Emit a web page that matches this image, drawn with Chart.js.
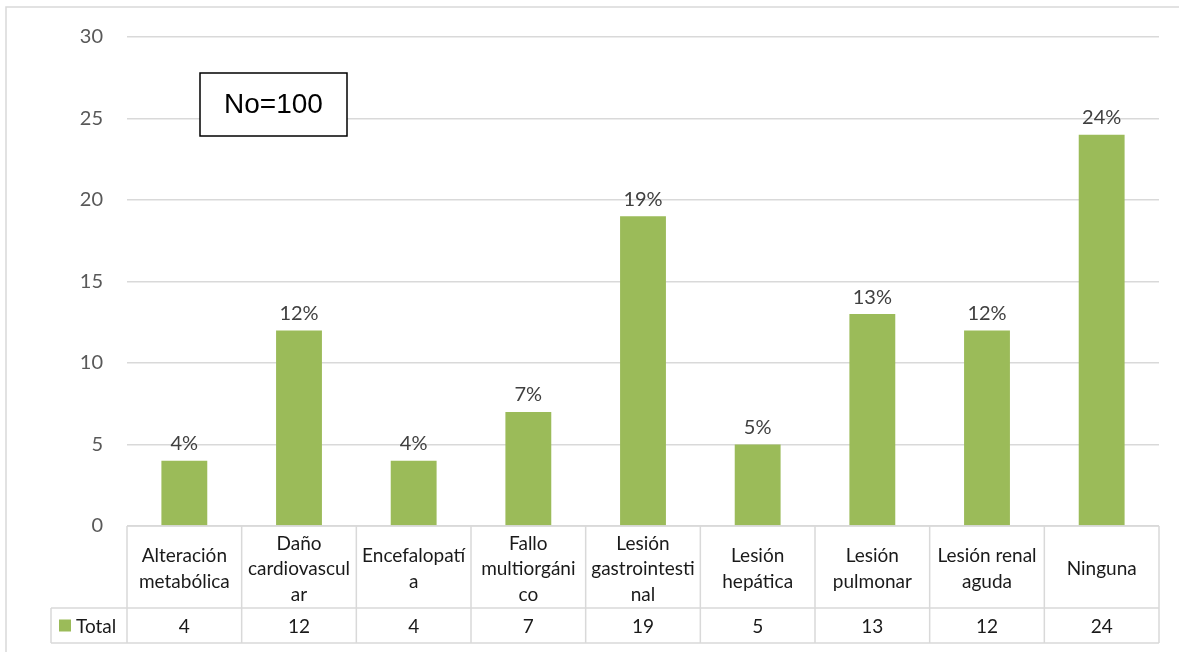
<!DOCTYPE html>
<html>
<head>
<meta charset="utf-8">
<script src="https://cdn.jsdelivr.net/npm/chart.js@4.4.1/dist/chart.umd.min.js"></script>
<style>
    body { margin: 0; background: #fff; }
    canvas { display: block; }
</style>
</head>
<body>
<canvas id="myChart" width="1179" height="652"></canvas>
<script>
// data
const categories = [
    ['Alteración', 'metabólica'],
    ['Daño', 'cardiovascul', 'ar'],
    ['Encefalopatí', 'a'],
    ['Fallo', 'multiorgáni', 'co'],
    ['Lesión', 'gastrointesti', 'nal'],
    ['Lesión', 'hepática'],
    ['Lesión', 'pulmonar'],
    ['Lesión renal', 'aguda'],
    ['Ninguna']
];
const totals = [4, 12, 4, 7, 19, 5, 13, 12, 24];
const seriesName = 'Total';
const yMin = 0;
const yMax = 30;
const yStep = 5;
const sampleNote = 'No=100';

const GREEN = '#9BBB59';
const GRID = '#d9d9d9';
const FONT = 'Lato, "Open Sans", sans-serif';

const sum = totals.reduce((a, b) => a + b, 0);

function line(ctx, x1, y1, x2, y2) {
    ctx.beginPath();
    ctx.moveTo(x1, y1);
    ctx.lineTo(x2, y2);
    ctx.stroke();
}

// background, frame, labels, data table, note box
const extras = {
    id: 'extras',
    beforeDraw(chart) {
        const ctx = chart.ctx;
        ctx.save();
        ctx.fillStyle = '#fff';
        ctx.fillRect(0, 0, chart.width, chart.height);
        ctx.strokeStyle = GRID;
        ctx.lineWidth = 1.5;
        ctx.strokeRect(6, 7, chart.width + 20, chart.height + 20);
        ctx.restore();
    },
    afterDatasetsDraw(chart) {
        const ctx = chart.ctx;
        const meta = chart.getDatasetMeta(0);
        ctx.save();
        ctx.font = '20px ' + FONT;
        ctx.fillStyle = '#404040';
        ctx.textAlign = 'center';
        ctx.textBaseline = 'bottom';
        meta.data.forEach((bar, i) => {
            const pct = Math.round(totals[i] / sum * 100) + '%';
            ctx.fillText(pct, bar.x, bar.y - 7);
        });
        ctx.restore();
    },
    afterDraw(chart) {
        const ctx = chart.ctx;
        const area = chart.chartArea;
        const x = chart.scales.x;
        const half = (x.getPixelForValue(1) - x.getPixelForValue(0)) / 2;
        const top = area.bottom;
        const headBottom = top + 82;
        const rowBottom = headBottom + 35;
        const legendLeft = 51;

        ctx.save();
        ctx.strokeStyle = GRID;
        ctx.lineWidth = 1.5;
        line(ctx, area.left, top, area.right, top);
        line(ctx, legendLeft, headBottom, area.right, headBottom);
        line(ctx, legendLeft, rowBottom, area.right, rowBottom);
        line(ctx, legendLeft, headBottom, legendLeft, rowBottom);
        for (let i = 0; i < categories.length; i++) {
            const xb = x.getPixelForValue(i) - half;
            line(ctx, xb, top, xb, rowBottom);
        }
        line(ctx, area.right, top, area.right, rowBottom);

        // header labels
        ctx.fillStyle = '#1a1a1a';
        ctx.font = '19px ' + FONT;
        ctx.textAlign = 'center';
        ctx.textBaseline = 'middle';
        const lh = 25.5;
        categories.forEach((lines, i) => {
            const cx = x.getPixelForValue(i);
            const cy = (top + headBottom) / 2 + 2 - (lines.length - 1) * lh / 2;
            lines.forEach((t, k) => ctx.fillText(t, cx, cy + k * lh));
        });

        // values row
        const rowY = (headBottom + rowBottom) / 2;
        totals.forEach((v, i) => {
            ctx.fillText(String(v), x.getPixelForValue(i), rowY + 1);
        });

        // legend key
        ctx.fillStyle = GREEN;
        ctx.fillRect(59, rowY - 6, 12, 12);
        ctx.fillStyle = '#1a1a1a';
        ctx.textAlign = 'left';
        ctx.fillText(seriesName, 76, rowY + 1);

        // note box
        ctx.fillStyle = '#fff';
        ctx.fillRect(200, 73, 147, 63);
        ctx.strokeStyle = '#000';
        ctx.lineWidth = 1.5;
        ctx.strokeRect(200, 73, 147, 63);
        ctx.fillStyle = '#000';
        ctx.font = '28px "Liberation Sans", Arial, sans-serif';
        ctx.textAlign = 'center';
        ctx.fillText(sampleNote, 273.5, 105);
        ctx.restore();
    }
};

const ctx = document.getElementById('myChart');

let myChart = new Chart(ctx, {
    type: 'bar',
    data: {
        labels: categories,
        datasets: [{
            label: seriesName,
            data: totals,
            backgroundColor: GREEN,
            barPercentage: 0.4,
            categoryPercentage: 1
        }]
    },
    options: {
        responsive: false,
        animation: false,
        layout: {
            padding: { top: 37, right: 20, bottom: 126, left: 0 }
        },
        plugins: {
            legend: { display: false },
            tooltip: { enabled: false }
        },
        scales: {
            x: {
                display: false
            },
            y: {
                min: yMin,
                max: yMax,
                afterFit: (scale) => { scale.width = 127; },
                border: { display: false },
                grid: {
                    color: GRID,
                    lineWidth: 1.5,
                    drawTicks: false
                },
                ticks: {
                    stepSize: yStep,
                    padding: 24,
                    color: '#595959',
                    font: { family: FONT, size: 20 }
                }
            }
        }
    },
    plugins: [extras]
});
</script>
</body>
</html>
